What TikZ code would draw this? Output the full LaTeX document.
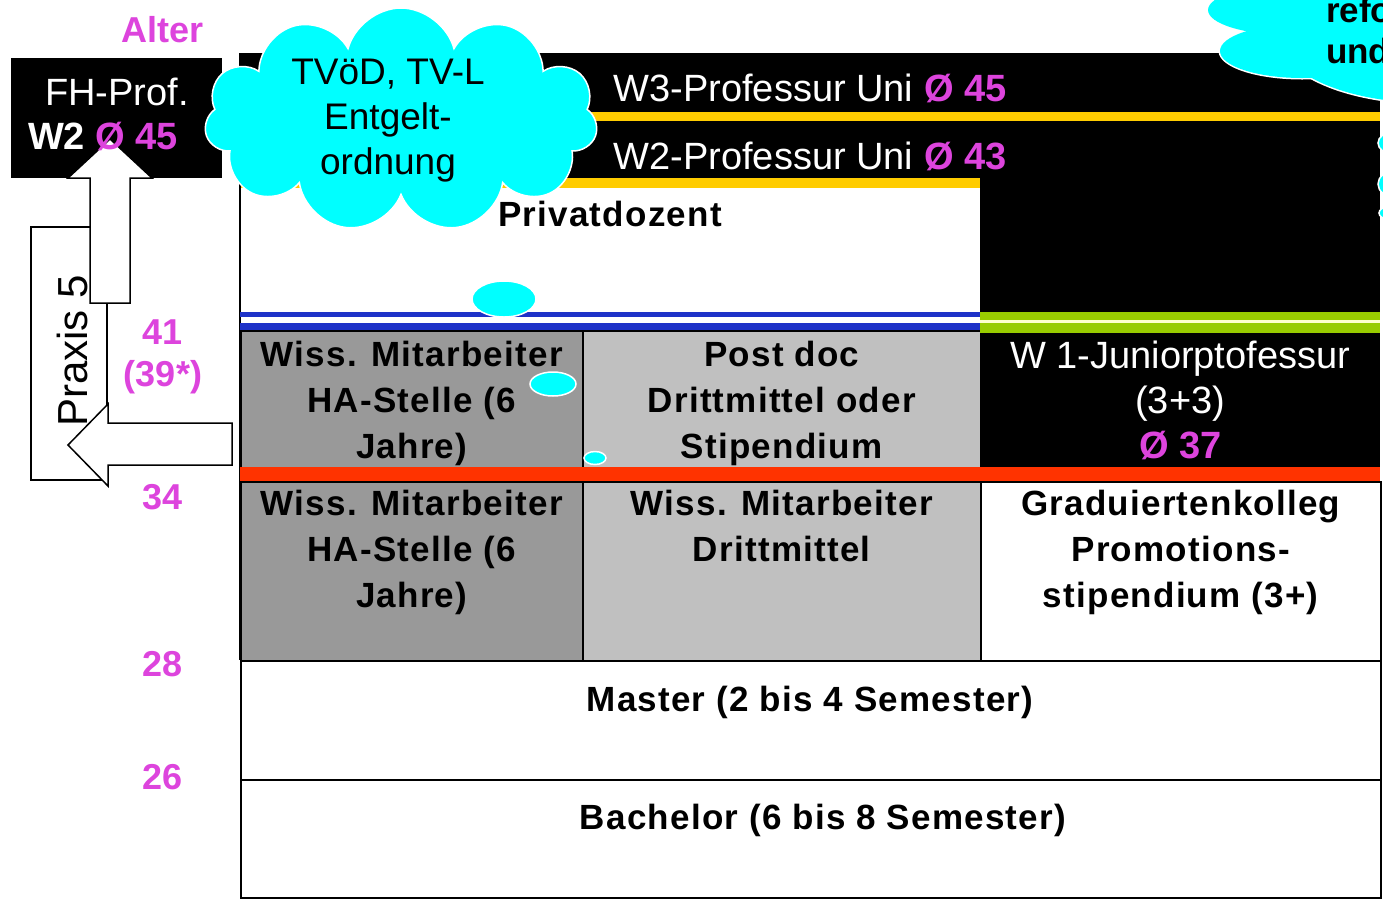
\documentclass[tikz,border=0pt]{standalone}
\usepackage{fontspec}
\setmainfont{Liberation Sans}
\newfontfamily\spacedfont[LetterSpace=3.5]{Liberation Sans}
\usetikzlibrary{positioning, shapes.symbols, shapes.geometric}

\definecolor{agepink}{RGB}{221,68,221}
\definecolor{bubblecyan}{RGB}{0,255,255}
\definecolor{darkcell}{RGB}{153,153,153}
\definecolor{lightcell}{RGB}{192,192,192}
\definecolor{barblue}{RGB}{30,50,200}
\definecolor{bargreen}{RGB}{153,204,0}
\definecolor{barcream}{RGB}{255,255,204}
\definecolor{barred}{RGB}{255,51,0}
\definecolor{baryellow}{RGB}{255,204,0}

\tikzset{
  cell/.style={draw=black, line width=1.5pt, inner sep=0pt, anchor=north west},
  bar/.style={inner sep=0pt, anchor=north west},
  celltext/.style={font=\spacedfont\bfseries\fontsize{35}{46}\selectfont, align=center, inner sep=0pt},
  whitetext/.style={font=\fontsize{38}{45}\selectfont, text=white, align=center, inner sep=0pt},
  agetext/.style={font=\bfseries\fontsize{36}{45}\selectfont, text=agepink, inner sep=0pt},
  bubble/.style={ellipse, fill=bubblecyan, draw=white, line width=1.5pt, inner sep=0pt},
  puffring/.style={ellipse, draw=white, line width=3pt, inner sep=0pt},
  pufffill/.style={ellipse, fill=bubblecyan, inner sep=0pt},
  blockarrow/.style={draw=black, line width=1.5pt, fill=white, line join=miter},
}

\begin{document}
\begin{tikzpicture}[x=1pt, y=-1pt]
\useasboundingbox (0,0) rectangle (1383,898);
\clip (0,0) rectangle (1383,898);
\fill[white] (0,0) rectangle (1383,898);

% Professuren
\node[bar, fill=black, minimum width=1140pt, minimum height=259pt] (profrow) at (240,53) {};
\node[bar, fill=white, minimum width=740pt, minimum height=124pt] (pdcell) at (240,188) {};
\node[bar, fill=baryellow, minimum width=1140pt, minimum height=9pt] (yellowA) at (240,112) {};
\node[bar, fill=baryellow, minimum width=740pt, minimum height=10pt] (yellowB) at (240,178) {};
\node[whitetext] (wthree) at (810,88) {W3-Professur Uni \textcolor{agepink}{\bfseries Ø 45}};
\node[whitetext] (wtwo) at (810,156) {W2-Professur Uni \textcolor{agepink}{\bfseries Ø 43}};

% Postdoc-Phase
\node[cell, fill=darkcell, minimum width=342pt, minimum height=137pt] (haTop) at (240,330) {};
\node[cell, fill=lightcell, minimum width=398pt, minimum height=137pt] (postdoc) at (582,330) {};
\node[bar, fill=black, minimum width=400pt, minimum height=134pt] (junior) at (980,333) {};

% Promotionsphase
\node[cell, fill=darkcell, minimum width=342pt, minimum height=179pt] (haLow) at (240,481) {};
\node[cell, fill=lightcell, minimum width=398pt, minimum height=179pt] (dritt) at (582,481) {};
\node[cell, fill=white, minimum width=400pt, minimum height=179pt] (grad) at (980,481) {};

% Studium
\node[cell, fill=white, minimum width=1140pt, minimum height=119pt] (master) at (240,660) {};
\node[cell, fill=white, minimum width=1140pt, minimum height=118pt] (bachelor) at (240,779) {};
\draw[line width=1.5pt] (profrow.north west) -- (master.north west);

% Trennlinien
\node[bar, fill=barblue, minimum width=740pt, minimum height=5pt] (blueA) at (240,312) {};
\node[bar, fill=barblue, minimum width=740pt, minimum height=7pt] (blueB) at (240,323) {};
\node[bar, fill=bargreen, minimum width=400pt, minimum height=21pt] (greenbar) at (980,312) {};
\node[bar, fill=barcream, minimum width=400pt, minimum height=3pt] (creambar) at (980,320) {};
\node[bar, fill=barred, minimum width=1140pt, minimum height=14pt] (redbar) at (240,467) {};

% Texte
\node[celltext] (haTopText) at ([yshift=-4pt]haTop.center) {Wiss. Mitarbeiter\\HA-Stelle (6\\Jahre)};
\node[celltext] (postdocText) at ([yshift=-4pt]postdoc.center) {Post doc\\Drittmittel oder\\Stipendium};
\node[whitetext] (juniorText) at (junior.center) {W 1-Juniorptofessur\\(3+3)\\\textcolor{agepink}{\bfseries Ø 37}};
\node[celltext, below=9pt of haLow.north] (haLowText) {Wiss. Mitarbeiter\\HA-Stelle (6\\Jahre)};
\node[celltext, below=9pt of dritt.north] (drittText) {Wiss. Mitarbeiter\\Drittmittel};
\node[celltext, below=9pt of grad.north] (gradText) {Graduiertenkolleg\\Promotions-\\stipendium (3+)};
\node[celltext] (masterText) at (810,702) {Master (2 bis 4 Semester)};
\node[celltext] (bachelorText) at (823,820) {Bachelor (6 bis 8 Semester)};

% FH-Professur und Praxis
\node[bar, fill=black, minimum width=211pt, minimum height=120pt] (fhbox) at (11,58) {};
\draw[blockarrow] (31,227) rectangle (107,480);
\draw[blockarrow] (232,423) -- (108,423) -- (108,404) -- (68,445) -- (108,486) -- (108,465) -- (232,465) -- cycle;
\draw[blockarrow] (90,303) -- (90,178) -- (68,178) -- (110,139) -- (152,178) -- (130,178) -- (130,303) -- cycle;
\node[whitetext] (fhText) at (117,92) {FH-Prof.};
\node[whitetext] (fhPay) at (103,137) {\bfseries W2 \textcolor{agepink}{Ø 45}};
\node[rotate=90, font=\fontsize{42}{50}\selectfont, inner sep=0pt] (praxis) at (72,351) {Praxis 5};

% Altersangaben
\node[agetext] (ageHead) at (163,30) {Alter};
\node[agetext] (ageProf) at (163,332) {41};
\node[agetext] (ageProfAlt) at (163,377) {(39*)};
\node[agetext] (agePostdoc) at (163,497) {34};
\node[agetext] (agePromo) at (163,664) {28};
\node[agetext] (ageMaster) at (163,777) {26};

% Wolken
\node[cloud, cloud puffs=11, aspect=1.75, fill=bubblecyan, draw=white, line width=1.5pt, minimum width=393pt, minimum height=224pt] (tvcloud) at (401,120) {};
\node[font=\fontsize{37}{45}\selectfont, align=center, inner sep=0pt] (tvText) at (388,121) {TVöD, TV-L\\Entgelt-\\ordnung};
\node[bubble, minimum width=64pt, minimum height=36pt] (dotA) at (504,299) {};
\node[bubble, minimum width=46pt, minimum height=24pt] (dotB) at (553,384) {};
\node[bubble, minimum width=22pt, minimum height=13pt] (dotC) at (595,458) {};
\node[celltext] (pdText) at (610,214) {Privatdozent};

\foreach \px/\py/\pw/\ph/\pname in {1290/10/164/50/puffA, 1302/51/164/54/puffB, 1430/38/300/130/puffC}
  \node[puffring, minimum width=\pw pt, minimum height=\ph pt] (\pname) at (\px,\py) {};
\foreach \px/\py/\pw/\ph in {1290/10/164/50, 1302/51/164/54, 1430/38/300/130}
  \node[pufffill, minimum width=\pw pt, minimum height=\ph pt] at (\px,\py) {};
\node[font=\bfseries\fontsize{35}{45}\selectfont, anchor=base west, inner sep=0pt] (reformA) at (1326,22) {refo};
\node[font=\bfseries\fontsize{35}{45}\selectfont, anchor=base west, inner sep=0pt] (reformB) at (1326,63) {und};
\node[bubble, minimum width=30pt, minimum height=22pt] (dotD) at (1393,143) {};
\node[bubble, minimum width=32pt, minimum height=26pt] (dotE) at (1394,184) {};
\node[bubble, minimum width=18pt, minimum height=12pt] (dotF) at (1388,213) {};
\end{tikzpicture}
\end{document}
